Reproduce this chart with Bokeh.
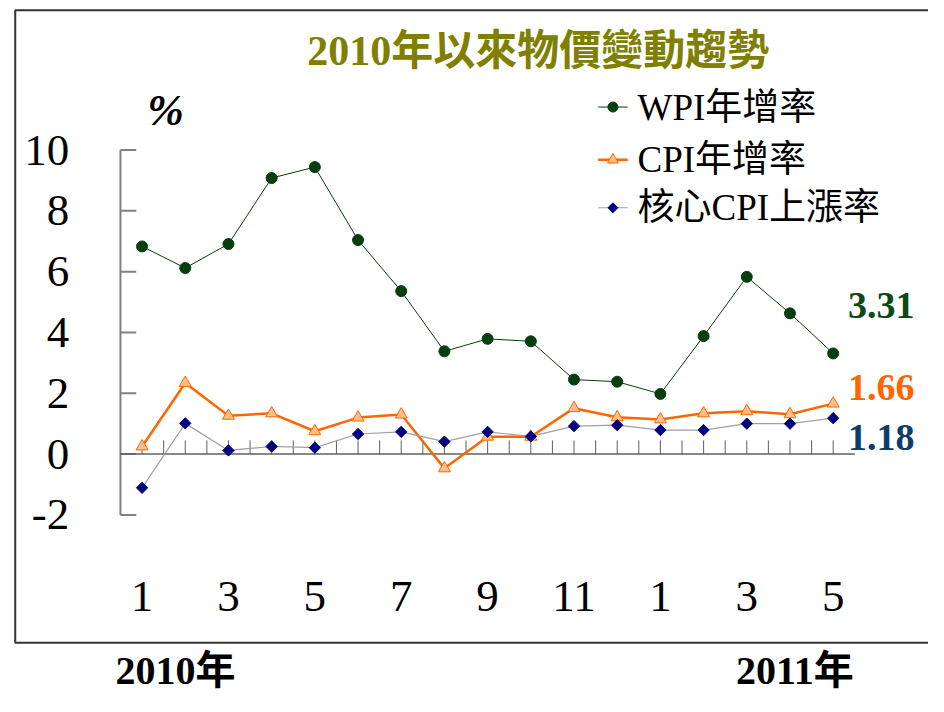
from bokeh.plotting import figure
from bokeh.models import Range1d, Label, ColumnDataSource
from bokeh.embed import file_html
from bokeh.resources import INLINE
from bokeh.core.properties import value

# ---------------- data ----------------
months = ["1", "2", "3", "4", "5", "6", "7", "8", "9", "10", "11", "12",
          "1", "2", "3", "4", "5"]
wpi = [6.83, 6.12, 6.91, 9.08, 9.44, 7.04, 5.36, 3.38, 3.79, 3.71, 2.45, 2.38,
       1.98, 3.88, 5.83, 4.63, 3.31]
cpi = [0.25, 2.34, 1.26, 1.34, 0.75, 1.20, 1.30, -0.47, 0.57, 0.57, 1.51, 1.21,
       1.14, 1.34, 1.41, 1.31, 1.66]
core = [-1.11, 1.01, 0.12, 0.25, 0.21, 0.66, 0.73, 0.41, 0.73, 0.58, 0.92, 0.95,
        0.79, 0.79, 1.00, 1.00, 1.18]
y_ticks = [-2, 0, 2, 4, 6, 8, 10]
series_names = ["WPI年增率", "CPI年增率", "核心CPI上漲率"]
title_text = "2010年以來物價變動趨勢"
year_labels = ["2010年", "2011年"]
unit_label = "%"

# ---------------- layout ----------------
W, H = 928, 696
SX, SY = W / 944.0, H / 712.0          # reference-pixel -> figure-pixel
X0_PX, DX = 144.0 * SX, 43.94 * SX     # pixel of first month, px per month
Y0_PX, DY = 464.0 * SY, 31.1 * SY      # pixel of value 0, px per unit


def px(v):
    """reference x pixel -> data x"""
    return (v * SX - X0_PX) / DX


def py(v):
    """reference y pixel -> data y"""
    return (Y0_PX - v * SY) / DY


SERIF = "Liberation Serif, Noto Sans CJK TC"
n = len(months)
xs = list(range(n))
src = ColumnDataSource(dict(x=xs, wpi=wpi, cpi=cpi, core=core))

p = figure(width=W, height=H,
           x_range=Range1d(px(0), px(944)), y_range=Range1d(py(712), py(0)),
           x_axis_type=None, y_axis_type=None,
           output_backend="svg", toolbar_location=None, min_border=0,
           outline_line_color=None, background_fill_color="white",
           border_fill_color="white")
p.xgrid.visible = False
p.ygrid.visible = False

# outer frame box (right side runs off the page)
p.line(x=[px(980), px(15), px(15), px(980)],
       y=[py(10), py(10), py(657), py(657)],
       line_color="#333333", line_width=2)

# y axis
p.segment(x0=[-0.5], y0=[min(y_ticks)], x1=[-0.5], y1=[max(y_ticks)],
          line_color="#808080", line_width=2)
p.segment(x0=[-0.5] * len(y_ticks), y0=y_ticks,
          x1=[-0.5 + 16 / 43.94] * len(y_ticks), y1=y_ticks,
          line_color="#808080", line_width=2)
p.text(x=[px(70)] * len(y_ticks), y=y_ticks, text=[str(t) for t in y_ticks],
       text_align="right", text_baseline="middle",
       text_font=value(SERIF), text_font_size="45px", text_color="black")

# zero line with category ticks
p.segment(x0=[-0.5], y0=[0], x1=[n - 0.5], y1=[0],
          line_color="#606060", line_width=1.5)
half = [k * 0.5 for k in range(2 * n - 1)]
p.segment(x0=half, y0=[0] * len(half), x1=half, y1=[14 / 31.1] * len(half),
          line_color="#606060", line_width=1)

# x tick labels (every other month)
lab_x = xs[::2]
p.text(x=lab_x, y=[py(610)] * len(lab_x), text=[months[i] for i in lab_x],
       text_align="center", text_baseline="middle",
       text_font=value(SERIF), text_font_size="45px", text_color="black")

# ---------------- series ----------------
styles = [
    dict(col="wpi", line_color="#0b3d0b", line_width=1, marker="circle",
         size=11, angle=0, fill="#053f10", mline="#053f10"),
    dict(col="cpi", line_color="#ff6600", line_width=2.5, marker="triangle",
         size=12, angle=0, fill="#ffbf8c", mline="#ff6600"),
    dict(col="core", line_color="#a0a0a0", line_width=1.2, marker="square",
         size=8, angle=0.785398, fill="#000080", mline="#000080"),
]
for s in styles:
    p.line("x", s["col"], source=src, line_color=s["line_color"],
           line_width=s["line_width"])
    p.scatter("x", s["col"], source=src, marker=s["marker"], size=s["size"],
              angle=s["angle"], fill_color=s["fill"], line_color=s["mline"],
              line_width=1)

# ---------------- legend (drawn by hand, no frame) ----------------
leg_rows = [109, 163, 212]             # reference pixel row centres
for name, s, ry in zip(series_names, styles, leg_rows):
    p.segment(x0=[px(608)], y0=[py(ry)], x1=[px(638)], y1=[py(ry)],
              line_color=s["line_color"], line_width=s["line_width"])
    p.scatter(x=[px(623)], y=[py(ry)], marker=s["marker"],
              size=s["size"] - 1, angle=s["angle"], fill_color=s["fill"],
              line_color=s["mline"], line_width=1)
    p.add_layout(Label(x=px(648), y=py(ry), text=name, text_align="left",
                       text_baseline="middle", text_font=SERIF,
                       text_font_size="37px", text_color="black"))

# ---------------- texts ----------------
p.add_layout(Label(x=px(547), y=py(52), text=title_text, text_align="center",
                   text_baseline="middle", text_font=SERIF,
                   text_font_size="42px", text_font_style="bold",
                   text_color="#808000"))
p.add_layout(Label(x=px(168), y=py(113), text=unit_label, text_align="center",
                   text_baseline="middle", text_font="Liberation Serif",
                   text_font_size="44px", text_font_style="bold italic",
                   text_color="black"))

end_vals = [wpi[-1], cpi[-1], core[-1]]
end_colors = ["#0b4a17", "#ff6600", "#0d3c6e"]
end_ys = [312, 396, 447]
for v, c, yy in zip(end_vals, end_colors, end_ys):
    p.add_layout(Label(x=px(862), y=py(yy), text=f"{v:.2f}", text_align="left",
                       text_baseline="middle", text_font="Liberation Serif",
                       text_font_size="38px", text_font_style="bold",
                       text_color=c))

for t, cx in zip(year_labels, [178, 808]):
    p.add_layout(Label(x=px(cx), y=py(685), text=t, text_align="center",
                       text_baseline="middle", text_font=SERIF,
                       text_font_size="40px", text_font_style="bold",
                       text_color="black"))

open("out.html", "w").write(file_html(p, INLINE))
